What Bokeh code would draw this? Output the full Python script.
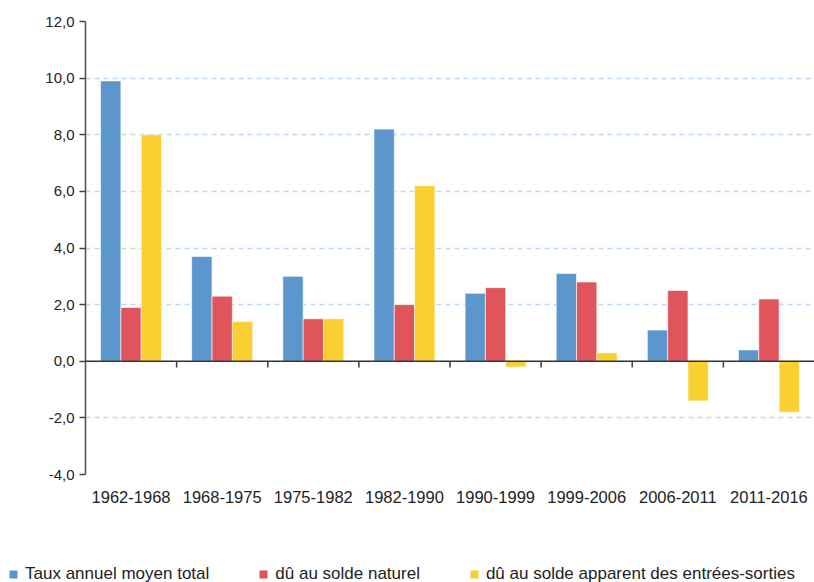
from bokeh.plotting import figure
from bokeh.models import (FactorRange, Range1d, FixedTicker, Span, Legend, LegendItem,
                          ColumnDataSource)
from bokeh.layouts import column, row
from bokeh.transform import dodge
from bokeh.embed import file_html
from bokeh.resources import INLINE

# ---- data ----
periods = ["1962-1968", "1968-1975", "1975-1982", "1982-1990",
           "1990-1999", "1999-2006", "2006-2011", "2011-2016"]
taux_total = [9.9, 3.7, 3.0, 8.2, 2.4, 3.1, 1.1, 0.4]
solde_naturel = [1.9, 2.3, 1.5, 2.0, 2.6, 2.8, 2.5, 2.2]
solde_migratoire = [8.0, 1.4, 1.5, 6.2, -0.2, 0.3, -1.4, -1.8]
series_names = ["Taux annuel moyen total", "dû au solde naturel",
                "dû au solde apparent des entrées-sorties"]
y_ticks = [-4, -2, 0, 2, 4, 6, 8, 10, 12]
y_labels = [f"{t:.1f}".replace(".", ",") for t in y_ticks]

colors = ["#5B96CD", "#E0545C", "#F9CF31"]
FONT = "Liberation Sans"

source = ColumnDataSource(dict(cat=periods, total=taux_total,
                               nat=solde_naturel, mig=solde_migratoire))

p = figure(width=814, height=556, output_backend="svg", toolbar_location=None,
           x_range=FactorRange(factors=periods, range_padding=0),
           y_range=Range1d(y_ticks[0], y_ticks[-1]))
p.min_border_left = 85
p.min_border_right = 0
p.min_border_top = 21
p.min_border_bottom = 82
p.outline_line_color = None
p.background_fill_color = "white"

bw = 0.223
renderers = []
for off, col, c in zip([-bw, 0, bw], ["total", "nat", "mig"], colors):
    r = p.vbar(x=dodge("cat", off, range=p.x_range), top=col, bottom=0, width=bw,
               source=source, fill_color=c, line_color="white", line_alpha=0.6,
               line_width=1)
    renderers.append(r)

# zero line
p.add_layout(Span(location=0, dimension="width", line_color="#333333", line_width=1.6))
# tick marks between categories on the zero line
tick_src = ColumnDataSource(dict(cat=periods[:-1]))
p.segment(x0=dodge("cat", 0.5, range=p.x_range), x1=dodge("cat", 0.5, range=p.x_range),
          y0=0, y1=-0.22, source=tick_src, line_color="#444444", line_width=1.6)

# y axis
p.yaxis.ticker = FixedTicker(ticks=y_ticks)
p.yaxis.major_label_overrides = {t: l for t, l in zip(y_ticks, y_labels)}
p.yaxis.axis_line_color = "#555555"
p.yaxis.axis_line_width = 1.6
p.yaxis.major_tick_line_color = "#444444"
p.yaxis.major_tick_line_width = 1.5
p.yaxis.major_tick_out = 6
p.yaxis.major_tick_in = 0
p.yaxis.minor_tick_line_color = None
p.yaxis.major_label_text_font = FONT
p.yaxis.major_label_text_font_size = "15px"
p.yaxis.major_label_text_color = "#222222"
p.yaxis.major_label_standoff = 5

# x axis
p.xaxis.axis_line_color = None
p.xaxis.major_tick_line_color = None
p.xaxis.minor_tick_line_color = None
p.xaxis.major_label_text_font = FONT
p.xaxis.major_label_text_font_size = "16.5px"
p.xaxis.major_label_text_color = "#222222"
p.xaxis.major_label_standoff = 10

# grid
p.xgrid.grid_line_color = None
p.ygrid.ticker = FixedTicker(ticks=[t for t in y_ticks if t != 0])
p.ygrid.grid_line_color = "#BBD8F6"
p.ygrid.grid_line_dash = "5 4"
p.ygrid.grid_line_width = 1.3

# ---- legend strip (its own figure, series kept hidden, only the legend shows) ----
lf = figure(width=814, height=26, output_backend="svg", toolbar_location=None,
            x_range=FactorRange(factors=periods), y_range=Range1d(0, 1),
            x_axis_type=None, y_axis_type=None)
lf.min_border = 0
lf.min_border_left = 0
lf.grid.visible = False
lf.outline_line_color = None
leg_renderers = [lf.vbar(x="cat", top=col, width=0.2, source=source, fill_color=c,
                         line_color=None, visible=False)
                 for col, c in zip(["total", "nat", "mig"], colors)]
legend = Legend(items=[LegendItem(label=n, renderers=[r]) for n, r in zip(series_names, leg_renderers)],
                orientation="horizontal", location=(8, -2),
                glyph_width=10, glyph_height=10, label_standoff=7, spacing=49,
                padding=0, margin=0, border_line_color=None,
                background_fill_alpha=0, inactive_fill_alpha=0,
                label_text_font=FONT, label_text_font_size="17px",
                label_text_color="#222222")
lf.add_layout(legend, "center")

open("out.html", "w").write(file_html(column(p, row(lf)), INLINE))
